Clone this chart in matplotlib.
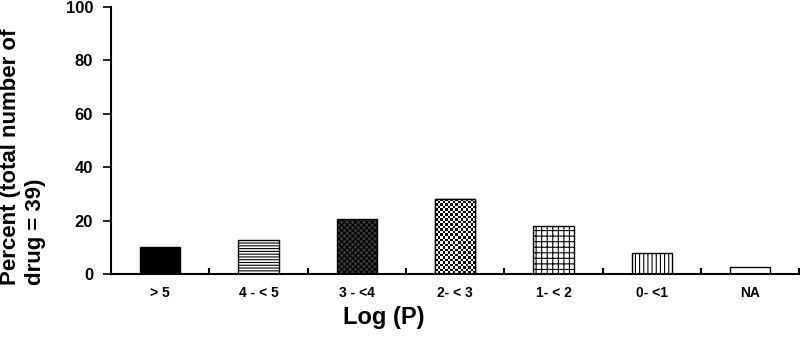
import numpy as np
import matplotlib
matplotlib.use('Agg')
import matplotlib.pyplot as plt

plt.rcParams['font.family'] = ['Liberation Sans', 'DejaVu Sans']
plt.rcParams['font.weight'] = 'bold'
plt.rcParams['hatch.linewidth'] = 0.8

#%% data (percent of 39 drugs)
categories = ['> 5', '4 - < 5', '3 - <4', '2- < 3', '1- < 2', '0- <1', 'NA']
percent = [10.26, 12.82, 20.51, 28.21, 17.95, 7.69, 2.56]

#%% styles per bar
faces = ['black', 'white', '#3a3a3a', 'white', 'white', 'white', 'white']
hatches = [None, '------', 'xxxxxx', None, '+++', '||||', None]
checker = 3  # index of checkerboard-filled bar

fig = plt.figure(figsize=(8, 3.37), dpi=100)
ax = fig.add_axes([0.139, 0.187, 0.86, 0.792])

x = np.arange(len(categories))
bars = []
for xi, v, fc, h in zip(x, percent, faces, hatches):
    b = ax.bar(xi, v, width=0.41, color=fc, edgecolor='black', linewidth=1.0,
               hatch=h, zorder=2)
    bars.append(b[0])

# checkerboard fill, clipped to the bar
p = bars[checker]
x0, y0 = p.get_x(), p.get_y()
w, hgt = p.get_width(), p.get_height()
nx, ny = 16, 30
cb = (np.add.outer(np.arange(ny), np.arange(nx)) % 2).astype(float)
im = ax.imshow(cb, cmap='gray', extent=[x0, x0 + w, y0, y0 + hgt],
               aspect='auto', interpolation='nearest', zorder=2.5)
im.set_clip_path(p)
ax.bar(x[checker], percent[checker], width=0.41, fill=False, edgecolor='black',
       linewidth=1.0, zorder=3)

ax.set_xlim(-0.5, len(categories) - 0.5)
ax.set_ylim(0, 100)
ax.set_yticks(np.arange(0, 101, 20))
ax.tick_params(axis='y', direction='out', length=6, width=1.2, pad=7, labelsize=12)
ax.set_xticks(x)
ax.set_xticklabels(categories, fontsize=10, fontweight='bold')
ax.tick_params(axis='x', which='major', length=0, pad=9)
ax.set_xticks(np.arange(0.5, len(categories), 1), minor=True)
ax.tick_params(axis='x', which='minor', direction='in', length=4, width=1.5)

for s in ['top', 'right']:
    ax.spines[s].set_visible(False)
for s in ['left', 'bottom']:
    ax.spines[s].set_linewidth(1.5)
    ax.spines[s].set_zorder(4)

ax.set_xlabel('Log (P)', fontsize=17, fontweight='bold')
ax.xaxis.set_label_coords(0.396, -0.12)

fig.text(0.0, 0.154, 'Percent (total number of\ndrug = 39)', rotation=90,
         ha='left', va='bottom', multialignment='left', fontsize=16,
         fontweight='bold', linespacing=1.25)

fig.savefig('out.png', dpi=100)
